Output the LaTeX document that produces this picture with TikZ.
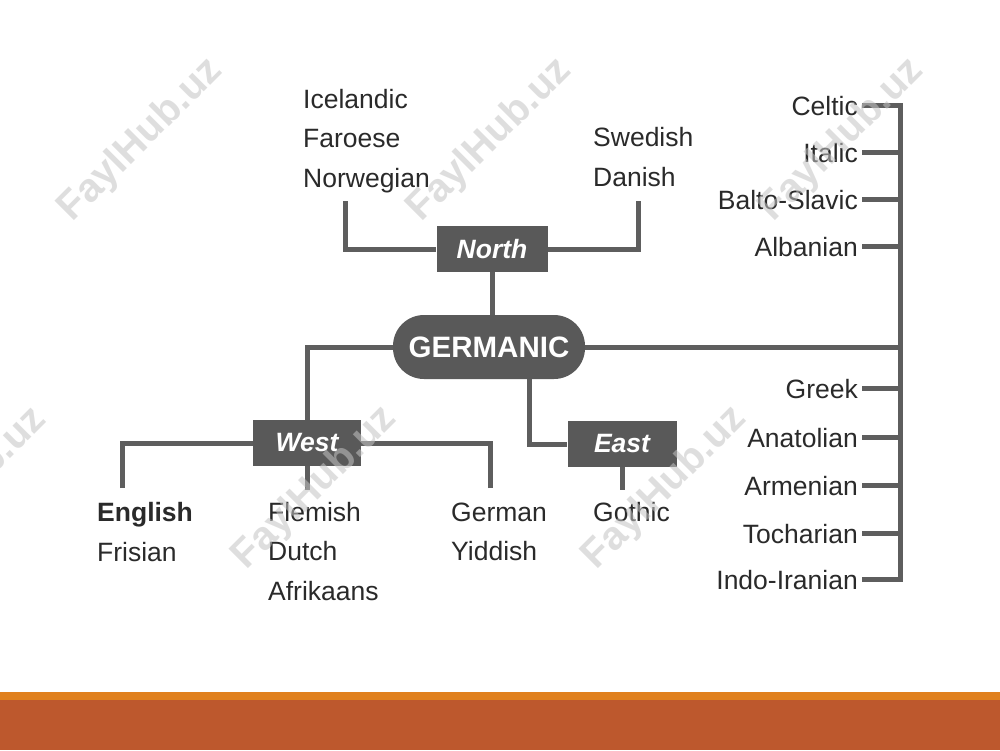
\documentclass[tikz,border=0pt]{standalone}
\usepackage{fontspec}
\setmainfont{Liberation Sans}
\begin{document}
\begin{tikzpicture}[x=1pt,y=-1pt,
  conn/.style={draw=linec, line width=5pt, line join=miter},
  lbl/.style={font=\fontsize{26.5}{30}\selectfont, text=txtc, inner sep=0pt, text height=19pt, text depth=0pt, anchor=base west},
  rlbl/.style={font=\fontsize{26.5}{30}\selectfont, text=txtc, inner ysep=0pt, inner xsep=4pt, text height=19pt, text depth=0pt, anchor=base east},
  branchbox/.style={fill=boxc, text=white, font=\fontsize{26.5}{30}\selectfont\bfseries\itshape, inner sep=0pt, minimum width=109pt, minimum height=46pt},
  rootbox/.style={fill=boxc, text=white, font=\fontsize{29.5}{32}\selectfont\bfseries, inner sep=0pt, minimum width=192pt, minimum height=64pt, rounded corners=31pt},
  wmark/.style={rotate=45, font=\fontsize{40}{44}\selectfont\bfseries, text=wmc, text opacity=0.55, inner sep=0pt}
]
\definecolor{linec}{HTML}{5E5E5E}
\definecolor{boxc}{HTML}{595959}
\definecolor{txtc}{HTML}{2A2A2A}
\definecolor{wmc}{HTML}{C4C4C4}
\definecolor{orangec}{HTML}{E0801E}
\definecolor{rustc}{HTML}{BD582D}

% canvas
\fill[white] (0,0) rectangle (1000,750);
\useasboundingbox (0,0) rectangle (1000,750);
\fill[orangec] (0,692) rectangle (1000,701);
\fill[rustc] (0,700) rectangle (1000,750);

% boxes
\node[branchbox, minimum width=111pt] (north) at (492,249) {North};
\node[rootbox] (germ) at (489,347) {GERMANIC};
\node[branchbox, minimum width=108pt] (west) at (307,443) {West};
\node[branchbox] (east) at (622,444) {East};

% north languages
\node[lbl] (icel) at (303,108) {Icelandic};
\node[lbl] (faro) at (303,147) {Faroese};
\node[lbl] (norw) at (303,187) {Norwegian};
\node[lbl] (swed) at (593,146) {Swedish};
\node[lbl] (dani) at (593,186) {Danish};

% west / east languages
\node[lbl, font=\fontsize{26.5}{30}\selectfont\bfseries] (engl) at (97,521) {English};
\node[lbl] (fris) at (97,561) {Frisian};
\node[lbl] (flem) at (268,521) {Flemish};
\node[lbl] (dutc) at (268,560) {Dutch};
\node[lbl] (afri) at (268,600) {Afrikaans};
\node[lbl] (germn) at (451,521) {German};
\node[lbl] (yidd) at (451,560) {Yiddish};
\node[lbl] (goth) at (593,521) {Gothic};

% other branches
\node[rlbl] (celtic) at (862,115) {Celtic};
\node[rlbl] (italic) at (862,162) {Italic};
\node[rlbl] (balto) at (862,209) {Balto-Slavic};
\node[rlbl] (alban) at (862,256) {Albanian};
\node[rlbl] (greek) at (862,398) {Greek};
\node[rlbl] (anat) at (862,447) {Anatolian};
\node[rlbl] (armen) at (862,495) {Armenian};
\node[rlbl] (tocha) at (862,543) {Tocharian};
\node[rlbl] (indo) at (862,589) {Indo-Iranian};

% connector end points
\coordinate (nl) at (345,201);
\coordinate (nr) at (638,201);
\coordinate (spinex) at (900,0);
\coordinate (ex) at (529,0);
\coordinate (engend) at (122,488);
\coordinate (gerend) at (490,488);
\coordinate (flemend) at (307,490);
\coordinate (gothend) at (622,490);

% connectors
\draw[conn] (nl) |- (north.west);
\draw[conn] (nr) |- (north.east);
\draw[conn] (north.south) -- (north.south |- germ.north);
\draw[conn] (germ.west) -| (west.north);
\draw[conn] (germ.south -| ex) |- (east.west);
\draw[conn] (engend) |- (west.west);
\draw[conn] (gerend) |- (west.east);
\draw[conn] (west.south) -- (flemend);
\draw[conn] (east.south) -- (gothend);
\draw[conn] (germ.east) -- (germ.east -| spinex);
\draw[conn] (celtic.east) -| (indo.east -| spinex) -- (indo.east);
\foreach \n in {italic,balto,alban,greek,anat,armen,tocha}
  \draw[conn] (\n.east) -- (\n.east -| spinex);

% watermarks
\node[wmark] (wm1) at (141,140) {FaylHub.uz};
\node[wmark] (wm2) at (490,140) {FaylHub.uz};
\node[wmark] (wm3) at (842,140) {FaylHub.uz};
\node[wmark] (wm4) at (-35,489) {FaylHub.uz};
\node[wmark] (wm5) at (315,488) {FaylHub.uz};
\node[wmark] (wm6) at (665,488) {FaylHub.uz};
\end{tikzpicture}
\end{document}
